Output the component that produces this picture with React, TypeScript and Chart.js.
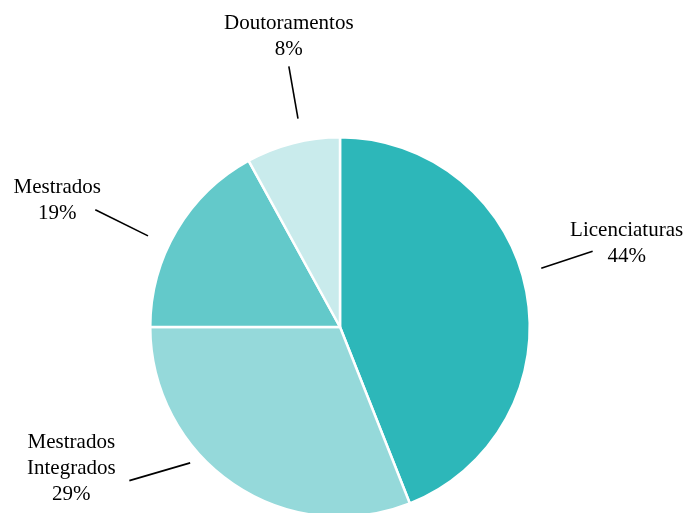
import React, { useEffect, useRef } from "react";
import { Chart, registerables } from "chart.js";

Chart.register(...registerables);

const categories: string[][] = [["Licenciaturas"], ["Mestrados", "Integrados"], ["Mestrados"], ["Doutoramentos"]];
const sliceValues: number[] = [44, 31, 17, 8];
const percentLabels: string[] = ["44%", "29%", "19%", "8%"];
const sliceColors: string[] = ["#2db7b9", "#95d9da", "#63c9ca", "#c9ebec"];

// leader line layout relative to each slice's mid angle (degrees nudge) and radius factors
const labelLayout = [
  { startNudge: -5.5, endNudge: -5.9, r0: 1.105, r1: 1.39, tdx: 34, tdy: -7.5 },
  { startNudge: 13.6, endNudge: 19.7, r0: 1.066, r1: 1.374, tdx: -58, tdy: -12 },
  { startNudge: -5.2, endNudge: -5.0, r0: 1.12, r1: 1.43, tdx: -38, tdy: -9 },
  { startNudge: 3.0, endNudge: 3.3, r0: 1.12, r1: 1.40, tdx: 0, tdy: -29.5 },
];

const labelPlugin = {
  id: "leaderLabels",
  afterDraw(chart: any) {
    const ctx = chart.ctx;
    const meta = chart.getDatasetMeta(0);
    const lineH = 26;
    meta.data.forEach((arc: any, i: number) => {
      const p = arc.getProps(["x", "y", "startAngle", "endAngle", "outerRadius"], true);
      const mid = (p.startAngle + p.endAngle) / 2;
      const L = labelLayout[i];
      const a0 = mid + (L.startNudge * Math.PI) / 180;
      const a1 = mid + (L.endNudge * Math.PI) / 180;
      const R = p.outerRadius;
      const x0 = p.x + Math.cos(a0) * R * L.r0;
      const y0 = p.y + Math.sin(a0) * R * L.r0;
      const x1 = p.x + Math.cos(a1) * R * L.r1;
      const y1 = p.y + Math.sin(a1) * R * L.r1;
      ctx.save();
      ctx.strokeStyle = "#000";
      ctx.lineWidth = 1.6;
      ctx.beginPath();
      ctx.moveTo(x0, y0);
      ctx.lineTo(x1, y1);
      ctx.stroke();
      const lines = [...categories[i], percentLabels[i]];
      const cx = x1 + L.tdx;
      const cy = y1 + L.tdy;
      const top = cy - ((lines.length - 1) * lineH) / 2;
      ctx.fillStyle = "#000";
      ctx.font = '21px "Liberation Serif", "Times New Roman", serif';
      ctx.textAlign = "center";
      ctx.textBaseline = "middle";
      lines.forEach((t, k) => ctx.fillText(t, cx, top + k * lineH));
      ctx.restore();
    });
  },
};

export default function App() {
  const ref = useRef<HTMLCanvasElement>(null);
  useEffect(() => {
    if (!ref.current) return;
    const chart = new Chart(ref.current, {
      type: "pie",
      data: {
        labels: categories.map((c) => c.join(" ")),
        datasets: [
          {
            data: sliceValues,
            backgroundColor: sliceColors,
            borderColor: "#ffffff",
            borderWidth: 2.5,
          },
        ],
      },
      options: {
        responsive: false,
        animation: false,
        layout: { padding: { left: 149, top: 136, right: 156, bottom: 22 } },
        plugins: { legend: { display: false }, tooltip: { enabled: false } },
      },
      plugins: [labelPlugin],
    });
    return () => chart.destroy();
  }, []);
  return (
    <div style={{ position: "absolute", left: 0, top: 0, width: 687, height: 540 }}>
      <canvas ref={ref} width={687} height={540} style={{ display: "block" }} />
    </div>
  );
}
